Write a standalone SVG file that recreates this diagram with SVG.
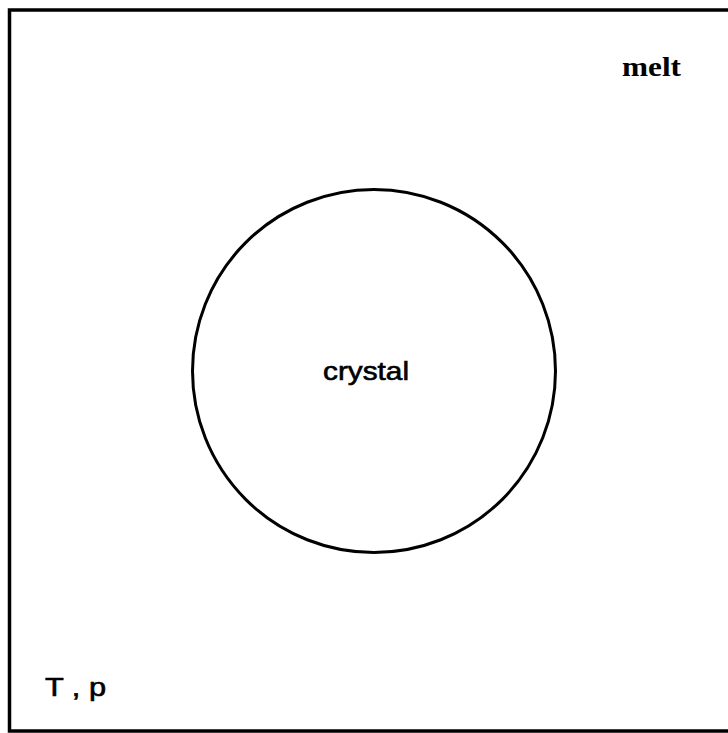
<svg xmlns="http://www.w3.org/2000/svg" width="728" height="733" viewBox="0 0 728 733">
<style>
.line{fill:none;stroke:#000;}
.sans{font-family:"Liberation Sans",Arial,sans-serif;fill:#000;stroke:#000;stroke-width:0.6;}
.serif{font-family:"Liberation Serif","Times New Roman",serif;fill:#000;}
</style>
<rect width="728" height="733" fill="#fff"/>
<g id="melt-region">
<rect class="line" x="9.5" y="10" width="722" height="721" stroke-width="3.5"/>
<text class="serif" x="622" y="76" font-size="28" font-weight="bold" textLength="59" lengthAdjust="spacingAndGlyphs">melt</text>
<text class="sans" x="45" y="696" font-size="25" textLength="61" lengthAdjust="spacingAndGlyphs">T , p</text>
</g>
<g id="crystal">
<circle class="line" cx="374" cy="371" r="181.5" stroke-width="3"/>
<text class="sans" x="323" y="380" font-size="25" textLength="86" lengthAdjust="spacingAndGlyphs">crystal</text>
</g>
<g id="connectors"></g>
</svg>
